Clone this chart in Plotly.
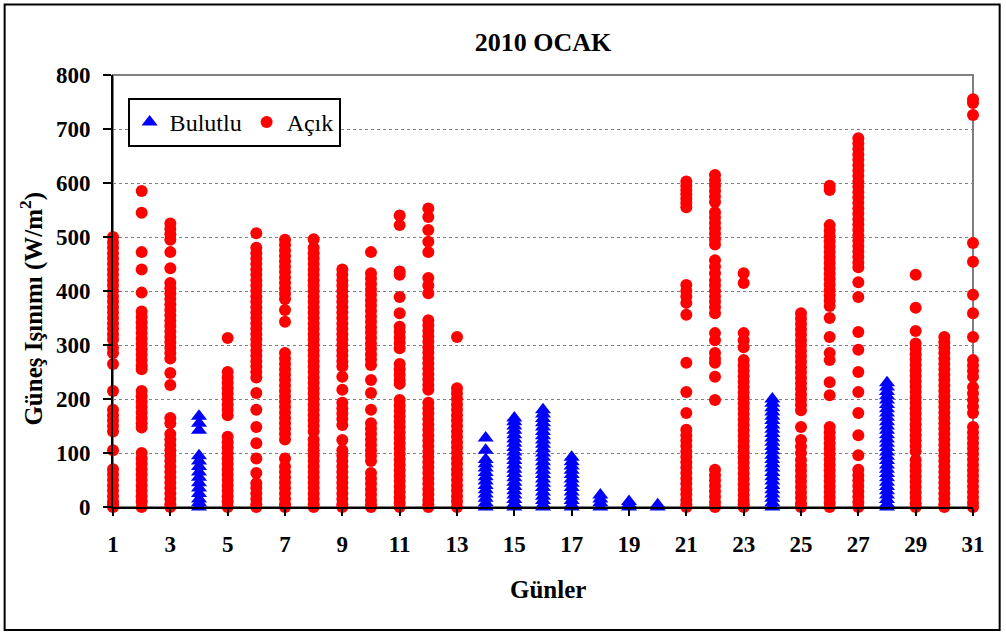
import plotly.graph_objects as go

# Ocak 2010 - gunluk gunes isinimi olcumleri (W/m2)
d1 = [500, 490, 480, 470, 460, 450, 440, 430, 420, 410, 400, 390, 380, 370, 360, 350, 340, 330, 320,
      310, 295, 285, 265, 215, 180, 170, 160, 150, 140, 105, 70, 60, 50, 40, 30, 20, 10, 5, 0]
d2 = [585, 545, 472, 440, 397, 362, 352, 342, 332, 322, 312, 302, 292, 282, 272, 262, 255, 215, 205,
      195, 185, 175, 165, 155, 147, 100, 90, 80, 70, 60, 50, 40, 30, 20, 10, 0]
d3 = [525, 515, 505, 495, 472, 442, 415, 405, 395, 385, 375, 365, 355, 345, 335, 325, 315, 305, 295,
      285, 275, 248, 226, 165, 155, 135, 125, 115, 105, 95, 85, 75, 65, 55, 45, 35, 25, 15, 5, 0]
d4 = [168, 155, 142, 95, 85, 75, 65, 55, 45, 35, 25, 15, 8, 0]
d5 = [313, 250, 240, 230, 220, 210, 200, 190, 180, 170, 130, 120, 110, 100, 90, 80, 70, 60, 50, 40,
      30, 20, 10, 0]
d6 = [507, 480, 470, 460, 450, 440, 430, 420, 410, 400, 390, 380, 370, 360, 350, 340, 330, 320, 310,
      300, 290, 280, 270, 260, 250, 240, 211, 180, 148, 118, 90, 63, 44, 35, 25, 15, 5, 0]
d7 = [495, 485, 475, 465, 455, 445, 435, 425, 415, 405, 395, 385, 365, 343, 285, 275, 265, 255, 245,
      235, 225, 215, 205, 195, 185, 175, 165, 155, 145, 135, 125, 90, 75, 65, 55, 45, 35, 25, 15, 5, 0]
d8 = [496, 480, 470, 460, 450, 440, 430, 420, 410, 400, 390, 380, 370, 360, 350, 340, 330, 320, 310,
      300, 290, 280, 270, 260, 250, 240, 230, 220, 210, 200, 190, 180, 170, 160, 150, 140, 125, 115,
      105, 95, 85, 75, 65, 55, 45, 35, 25, 15, 5, 0]
d9 = [440, 430, 420, 410, 400, 390, 380, 370, 360, 350, 340, 330, 320, 310, 300, 290, 280, 270, 260,
      241, 217, 193, 183, 173, 163, 152, 124, 105, 95, 85, 75, 65, 55, 45, 35, 25, 15, 5, 0]
d10 = [472, 433, 423, 413, 403, 393, 383, 373, 363, 353, 343, 333, 323, 313, 303, 293, 283, 273, 263,
       235, 211, 180, 155, 145, 135, 125, 115, 105, 95, 85, 63, 53, 43, 33, 23, 13, 5, 0]
d11 = [540, 522, 436, 430, 389, 359, 334, 324, 314, 304, 294, 265, 255, 245, 235, 228, 198, 188, 178,
       168, 158, 148, 138, 128, 118, 108, 98, 88, 78, 68, 58, 48, 38, 28, 18, 8, 0]
d12 = [553, 537, 513, 491, 472, 424, 410, 396, 346, 336, 326, 316, 306, 296, 286, 276, 266, 256, 246,
       236, 226, 217, 193, 183, 173, 163, 153, 143, 133, 123, 113, 103, 93, 83, 73, 63, 53, 43, 33,
       23, 13, 5, 0]
d13 = [315, 220, 210, 200, 190, 180, 170, 160, 150, 140, 130, 120, 110, 100, 90, 80, 70, 60, 50, 40,
       30, 20, 10, 0]
d14 = [128, 105, 88, 80, 72, 64, 56, 48, 40, 32, 24, 16, 8, 0]
d15 = [165, 158, 150, 142, 134, 126, 118, 110, 102, 94, 86, 78, 70, 62, 54, 46, 38, 30, 22, 14, 6, 0]
d16 = [180, 172, 164, 156, 148, 140, 132, 124, 116, 108, 100, 92, 84, 76, 68, 60, 52, 44, 36, 28, 20,
       12, 4, 0]
d17 = [92, 84, 76, 68, 60, 52, 44, 36, 28, 20, 12, 4, 0]
d18 = [22, 15, 8, 0]
d19 = [10, 5, 0]
d20 = [4, 0]
d21 = [603, 595, 587, 579, 571, 563, 555, 411, 400, 390, 378, 356, 267, 213, 174, 143, 133, 123, 113,
       103, 93, 83, 73, 63, 53, 43, 33, 23, 13, 5, 0]
d22 = [615, 605, 595, 585, 575, 565, 546, 536, 526, 516, 506, 496, 486, 457, 445, 433, 420, 410, 400,
       390, 380, 370, 359, 322, 309, 285, 275, 267, 241, 198, 69, 59, 49, 39, 29, 19, 9, 0]
d23 = [433, 415, 322, 309, 296, 272, 262, 252, 242, 232, 222, 212, 202, 192, 182, 172, 162, 152, 142,
       132, 122, 112, 102, 92, 82, 72, 62, 52, 42, 32, 22, 12, 5, 0]
d24 = [200, 192, 184, 176, 168, 160, 152, 144, 136, 128, 120, 112, 104, 96, 88, 80, 72, 64, 56, 48,
       40, 32, 24, 16, 8, 0]
d25 = [359, 349, 339, 329, 319, 309, 299, 289, 279, 269, 259, 249, 239, 229, 219, 209, 199, 189, 179,
       148, 124, 112, 100, 87, 77, 67, 57, 47, 37, 27, 17, 7, 0]
d26 = [595, 587, 522, 512, 502, 492, 482, 472, 462, 452, 442, 432, 422, 412, 402, 392, 382, 372, 350,
       315, 285, 272, 231, 207, 148, 138, 128, 118, 108, 98, 88, 78, 68, 58, 48, 38, 28, 18, 8, 0]
d27 = [683, 673, 663, 653, 643, 633, 623, 613, 603, 593, 583, 573, 563, 553, 543, 533, 523, 513, 503,
       493, 483, 473, 463, 453, 444, 416, 389, 324, 291, 250, 213, 174, 133, 96, 69, 59, 49, 39, 29,
       19, 9, 0]
d28 = [230, 222, 214, 206, 198, 190, 182, 174, 166, 158, 150, 142, 134, 126, 118, 110, 102, 94, 86,
       78, 70, 62, 54, 46, 38, 30, 22, 14, 6, 0]
d29 = [430, 369, 326, 303, 293, 283, 273, 263, 253, 243, 233, 223, 213, 203, 193, 183, 173, 163, 153,
       143, 133, 123, 113, 103, 87, 77, 67, 57, 47, 37, 27, 17, 7, 0]
d30 = [315, 305, 295, 285, 275, 265, 255, 245, 235, 225, 215, 205, 195, 185, 175, 165, 155, 145, 135,
       125, 115, 105, 95, 85, 75, 65, 55, 45, 35, 25, 15, 5, 0]
d31 = [755, 748, 726, 489, 454, 393, 359, 315, 272, 262, 252, 241, 222, 210, 198, 186, 174, 148, 138,
       128, 118, 108, 98, 88, 78, 68, 58, 48, 38, 28, 18, 8, 0]

gunluk = [d1, d2, d3, d4, d5, d6, d7, d8, d9, d10, d11, d12, d13, d14, d15, d16, d17, d18, d19, d20,
          d21, d22, d23, d24, d25, d26, d27, d28, d29, d30, d31]
bulutlu_gunler = [4, 14, 15, 16, 17, 18, 19, 20, 24, 28]
x_ticks = list(range(1, 32, 2))

FONT = "Liberation Serif, Times New Roman, serif"

# gunleri bulutlu / acik olarak ayir
bx, by, ax, ay = [], [], [], []
for gun, degerler in enumerate(gunluk, start=1):
    if gun in bulutlu_gunler:
        bx += [gun] * len(degerler)
        by += degerler
    else:
        ax += [gun] * len(degerler)
        ay += degerler

fig = go.Figure()
fig.add_trace(go.Scatter(
    x=bx, y=by, mode="markers", name="Bulutlu", cliponaxis=False,
    marker=dict(symbol="triangle-up", size=14, color="#0000FF", line=dict(width=0)),
))
fig.add_trace(go.Scatter(
    x=ax, y=ay, mode="markers", name="Açık", cliponaxis=False,
    marker=dict(symbol="circle", size=12, color="#FF0000", line=dict(width=0)),
))

# gri cerceve (ust ve sag kenar)
fig.add_shape(type="rect", xref="paper", yref="paper", x0=0, y0=0, x1=1, y1=1,
              line=dict(color="#808080", width=2), layer="below")
# disaridaki siyah cerceve
fig.add_shape(type="rect", xref="paper", yref="paper", x0=-0.126, y0=-0.285, x1=1.031, y1=1.163,
              line=dict(color="black", width=2))

# eksen basliklari (konumlari referansa gore)
fig.add_annotation(text="Güneş Işınımı (W/m<sup>2</sup>)", xref="paper", yref="paper",
                   x=-0.095, y=0.46, xanchor="center", yanchor="middle", textangle=-90,
                   showarrow=False, font=dict(size=25, family=FONT, weight="bold"))
fig.add_annotation(text="Günler", xref="paper", yref="paper", x=0.506, y=-0.192,
                   xanchor="center", yanchor="middle",
                   showarrow=False, font=dict(size=25, family=FONT, weight="bold"))

fig.update_layout(
    width=1006, height=634,
    margin=dict(l=113, r=33, t=75, b=127),
    paper_bgcolor="white", plot_bgcolor="white",
    font=dict(family=FONT, color="black"),
    title=dict(text="2010 OCAK", x=0.5, xref="paper", y=1 - 42 / 634, yanchor="middle",
               font=dict(size=26, family=FONT, weight="bold")),
    showlegend=True,
    legend=dict(orientation="h", x=0.017, y=0.947, xanchor="left", yanchor="top",
                bgcolor="white", bordercolor="black", borderwidth=2,
                font=dict(size=24, family=FONT)),
)
fig.update_xaxes(
    range=[1, 31], tickvals=x_ticks, ticktext=[str(t) for t in x_ticks],
    showgrid=False, zeroline=False, showline=True, linecolor="black", linewidth=2,
    ticks="outside", ticklen=7, tickwidth=2, tickcolor="black", ticklabelstandoff=8,
    tickfont=dict(size=23, family=FONT, weight="bold"),
)
fig.update_yaxes(
    range=[0, 800], dtick=100,
    showgrid=True, gridcolor="#808080", griddash="dot", gridwidth=1,
    zeroline=False, showline=True, linecolor="black", linewidth=2,
    ticks="outside", ticklen=8, tickwidth=2, tickcolor="black", ticklabelstandoff=8,
    tickfont=dict(size=23, family=FONT, weight="bold"),
)

fig.write_html("out.html", config={"displayModeBar": False},
               post_script="document.body.style.margin='0px';")
